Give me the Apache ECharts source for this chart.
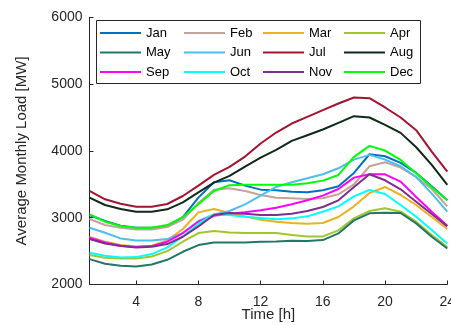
<!DOCTYPE html>
<html>
<head>
<meta charset="utf-8">
<script src="https://cdn.jsdelivr.net/npm/echarts@6/dist/echarts.min.js"></script>
<style>
html,body{margin:0;padding:0;background:#fff;}
#chart{width:451px;height:325px;}
</style>
</head>
<body>
<div id="chart"></div>
<script>
const hours = [1,2,3,4,5,6,7,8,9,10,11,12,13,14,15,16,17,18,19,20,21,22,23,24];
const xTicks = [4,8,12,16,20,24];
const months = ['Jan','Feb','Mar','Apr','May','Jun','Jul','Aug','Sep','Oct','Nov','Dec'];
const jan = [3040,2950,2880,2850,2850,2870,3010,3300,3530,3560,3480,3420,3410,3390,3380,3410,3470,3670,3950,3920,3820,3670,3470,3260];
const feb = [2980,2890,2850,2825,2825,2860,2970,3220,3420,3440,3400,3340,3300,3290,3280,3290,3350,3500,3770,3830,3750,3610,3430,3170];
const mar = [2710,2640,2590,2570,2580,2660,2830,3080,3130,3070,3020,2970,2940,2920,2910,2920,3010,3170,3370,3460,3340,3190,3010,2830];
const apr = [2440,2400,2390,2390,2420,2500,2640,2770,2800,2780,2770,2770,2770,2740,2720,2720,2810,2990,3100,3140,3090,2940,2740,2560];
const may = [2380,2310,2280,2270,2300,2370,2490,2590,2630,2630,2630,2640,2645,2655,2650,2665,2765,2960,3065,3075,3070,2915,2715,2540];
const jun = [2850,2775,2690,2660,2660,2680,2770,2950,3050,3100,3200,3330,3460,3530,3590,3650,3740,3870,3940,3870,3770,3610,3360,3090];
const jul = [3400,3275,3210,3165,3165,3205,3325,3480,3640,3760,3915,4110,4275,4410,4510,4610,4710,4800,4790,4650,4500,4310,3990,3690];
const aug = [3300,3190,3130,3090,3090,3125,3230,3380,3525,3625,3765,3900,4015,4150,4235,4320,4420,4520,4500,4390,4270,4055,3790,3490];
const sep = [2700,2630,2580,2560,2575,2640,2770,2940,3030,3060,3080,3110,3150,3200,3260,3330,3430,3600,3650,3650,3540,3310,3090,2880];
const oct = [2475,2430,2405,2410,2455,2555,2720,2910,3050,3040,3015,2995,2975,2990,3020,3090,3170,3320,3415,3355,3190,3015,2815,2615];
const nov = [2680,2615,2575,2555,2565,2605,2715,2870,3040,3070,3060,3040,3040,3060,3100,3160,3260,3460,3650,3560,3425,3240,3055,2870];
const dec = [3050,2940,2875,2850,2850,2890,3010,3200,3400,3485,3495,3495,3495,3495,3515,3555,3640,3910,4075,4005,3865,3665,3455,3260];
const seriesValues = [jan,feb,mar,apr,may,jun,jul,aug,sep,oct,nov,dec];
const colors = ['#0072BD','#C4A49A','#EDB120','#A2C62A','#217868','#4DBEEE','#A2142F','#0E2A18','#FF00FF','#00FFFF','#7E2F8E','#00FF00'];

const axisColor = '#262626';
const font = 'Liberation Sans, Arial, sans-serif';

const series = months.map((m, i) => ({
  name: m,
  type: 'line',
  data: hours.map((h, j) => [h, seriesValues[i][j]]),
  symbol: 'none',
  showSymbol: false,
  smooth: false,
  lineStyle: { width: 2, color: colors[i] },
  itemStyle: { color: colors[i] },
  emphasis: { disabled: true },
  z: 2
}));

const colLefts = [100, 184, 263, 344];
const legends = colLefts.map((left, c) => ({
  orient: 'vertical',
  left: left,
  top: 26,
  icon: 'rect',
  itemWidth: 41,
  itemHeight: 2,
  itemGap: 5.5,
  padding: 0,
  selectedMode: false,
  data: [months[c], months[c + 4], months[c + 8]],
  textStyle: { fontFamily: font, fontSize: 13, color: '#000', lineHeight: 14, height: 14, padding: [0,0,0,0] },
  z: 5
}));

const chart = echarts.init(document.getElementById('chart'), null, { renderer: 'canvas', width: 451, height: 325 });
chart.setOption({
  animation: false,
  backgroundColor: '#fff',
  color: colors,
  grid: { left: 89.5, right: 3.7, top: 17.3, bottom: 40.5, containLabel: false, outerBoundsMode: 'none' },
  legend: legends,
  graphic: [{
    type: 'rect',
    z: 4,
    shape: { x: 96.5, y: 20.5, width: 324, height: 63 },
    style: { fill: '#fff', stroke: axisColor, lineWidth: 1 }
  }],
  xAxis: {
    type: 'value',
    min: 1,
    max: 24,
    name: 'Time [h]',
    nameLocation: 'middle',
    nameGap: 23,
    nameMoveOverlap: false,
    nameTextStyle: { fontFamily: font, fontSize: 15, color: axisColor },
    axisLine: { show: true, onZero: false, lineStyle: { color: axisColor, width: 1 } },
    axisTick: { show: true, inside: true, length: 4, customValues: xTicks, lineStyle: { color: axisColor } },
    axisLabel: { customValues: xTicks, fontFamily: font, fontSize: 14, color: axisColor, margin: 11, hideOverlap: false },
    splitLine: { show: false }
  },
  yAxis: {
    type: 'value',
    min: 2000,
    max: 6000,
    interval: 1000,
    name: 'Average Monthly Load [MW]',
    nameLocation: 'middle',
    nameGap: 60,
    nameMoveOverlap: false,
    nameTextStyle: { fontFamily: font, fontSize: 15, color: axisColor },
    axisLine: { show: true, onZero: false, lineStyle: { color: axisColor, width: 1 } },
    axisTick: { show: true, inside: true, length: 4, lineStyle: { color: axisColor } },
    axisLabel: { fontFamily: font, fontSize: 14, color: axisColor, margin: 7, formatter: v => String(v) },
    splitLine: { show: false }
  },
  series: series
});
</script>
</body>
</html>
